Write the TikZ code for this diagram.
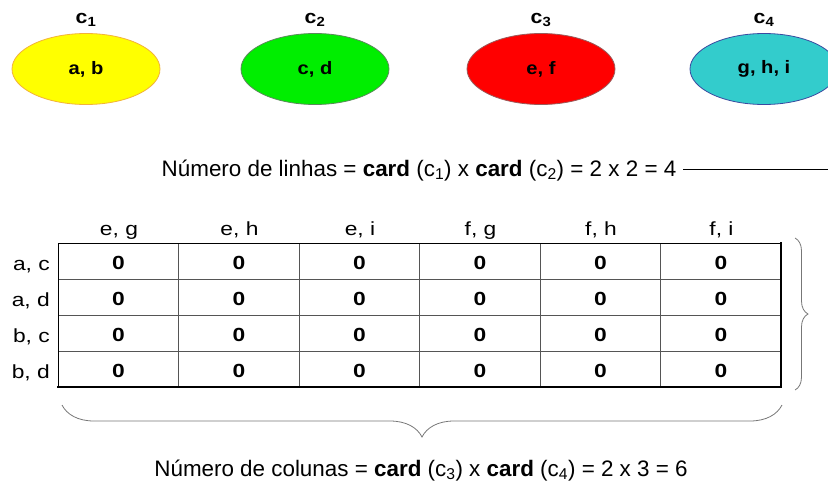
\documentclass[tikz,border=0pt]{standalone}
\usepackage{fontspec}
\setmainfont{Liberation Sans}
\newfontfamily\widefont[FakeStretch=1.2]{Liberation Sans}
\newfontfamily\setfont[FakeStretch=1.12]{Liberation Sans}
\usetikzlibrary{shapes.geometric,decorations.pathreplacing}

\definecolor{setyellow}{HTML}{FFFF00}
\definecolor{setyellowline}{HTML}{F2B23A}
\definecolor{setgreen}{HTML}{00EE00}
\definecolor{setgreenline}{HTML}{5A8A5A}
\definecolor{setred}{HTML}{FF0000}
\definecolor{setredline}{HTML}{9A5A5A}
\definecolor{setcyan}{HTML}{33CCCC}
\definecolor{setcyanline}{HTML}{3A4AA0}
\definecolor{gridgray}{HTML}{555555}
\definecolor{bracegray}{HTML}{777777}

\begin{document}
\begin{tikzpicture}[x=1pt,y=-1pt,
  setnode/.style={ellipse, draw, line width=0.8pt, minimum width=148pt,
    minimum height=71pt, inner sep=0pt,
    font=\setfont\fontsize{18}{18}\selectfont\bfseries},
  setlabel/.style={font=\setfont\fontsize{19}{19}\selectfont\bfseries, inner sep=0pt, anchor=base},
  formula/.style={font=\fontsize{22.4}{22.4}\selectfont, inner sep=0pt, anchor=base},
  headtext/.style={font=\widefont\fontsize{19}{19}\selectfont, inner sep=0pt},
  cell/.style={font=\widefont\fontsize{19}{19}\selectfont\bfseries, inner sep=0pt, anchor=base},
  gridline/.style={draw=gridgray, line width=0.7pt},
  bracestyle/.style={draw=bracegray, line width=0.8pt, decorate}]

\useasboundingbox (0,0) rectangle (828,485);

% the four sets
\node[setnode, fill=setyellow, draw=setyellowline] (s1) at (86,69) {a, b};
\node[setnode, fill=setgreen, draw=setgreenline] (s2) at (315,69) {c, d};
\node[setnode, fill=setred, draw=setredline] (s3) at (541,69) {e, f};
\node[setnode, fill=setcyan, draw=setcyanline] (s4) at (764,69) {g, h, i};

\node[setlabel] (l1) at (86,23) {c\textsubscript{1}};
\node[setlabel] (l2) at (315,23) {c\textsubscript{2}};
\node[setlabel] (l3) at (541,23) {c\textsubscript{3}};
\node[setlabel] (l4) at (764,23) {c\textsubscript{4}};

% number of rows
\node[formula] (rows) at (419,176)
  {Número de linhas = \textbf{card} (c\textsubscript{1}) x \textbf{card} (c\textsubscript{2}) = 2 x 2 = 4};
\coordinate (rowsend) at (830,169);
\draw[line width=0.8pt] (rows.east |- rowsend) ++(7,0) -- (rowsend);

% table grid
\foreach \k in {1,...,5}
  \draw[gridline] ({58+120.5*\k},243) -- ({58+120.5*\k},387);
\foreach \r in {279,315,351}
  \draw[gridline] (58,\r) -- (781,\r);
\draw[line width=0.8pt] (58,387) -- (58,243) -- (781,243);
\draw[line width=2.6pt, line cap=rect] (58,387) -- (781,387) -- (781,243);

% column headers
\foreach \t [count=\c from 0] in {{e, g},{e, h},{e, i},{f, g},{f, h},{f, i}}
  \node[headtext, anchor=base] (h\c) at ({119+120.5*\c},235) {\t};

% row headers and cells
\foreach \t [count=\r from 0] in {{a, c},{a, d},{b, c},{b, d}} {
  \node[headtext, anchor=base east] (r\r) at (50,{270+36*\r}) {\t};
  \foreach \c in {0,...,5}
    \node[cell] (cell-\r-\c) at ({118.5+120.5*\c},{269+36*\r}) {0};
}

% braces
\coordinate (rbtop) at (795,238);
\coordinate (rbbot) at (795,390);
\draw[bracestyle, decoration={brace, amplitude=13pt}] (rbtop) -- (rbbot);

\coordinate (bbright) at (782,405);
\coordinate (bbleft) at (62,405);
\draw[bracestyle, decoration={brace, amplitude=32pt}] (bbright) -- (bbleft);

% number of columns
\node[formula] (cols) at (421,476)
  {Número de colunas = \textbf{card} (c\textsubscript{3}) x \textbf{card} (c\textsubscript{4}) = 2 x 3 = 6};

\end{tikzpicture}
\end{document}
